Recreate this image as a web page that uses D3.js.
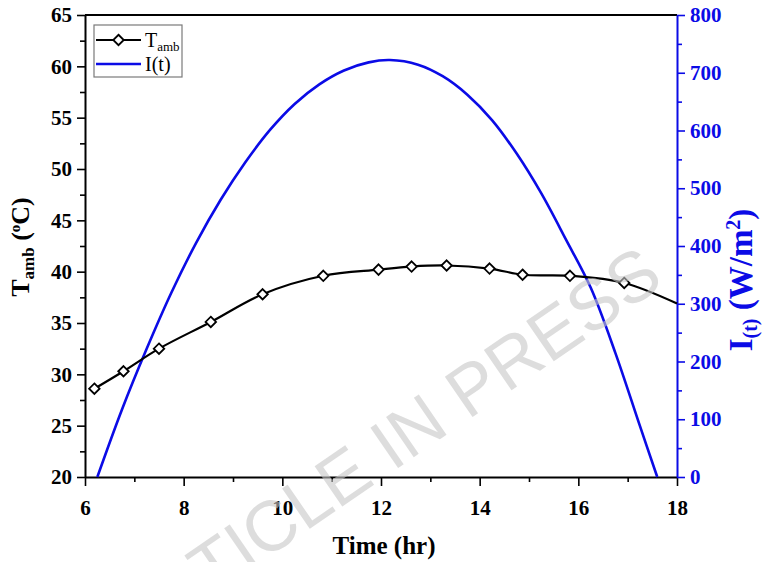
<!DOCTYPE html>
<html>
<head>
<meta charset="utf-8">
<script src="https://cdn.jsdelivr.net/npm/d3@7"></script>
<style>
  html, body { margin: 0; padding: 0; background: #fff; }
  svg { display: block; }
</style>
</head>
<body>
<svg id="chart" width="764" height="562"></svg>
<script>
// Hourly ambient temperature (°C)
const tampTimes = [6.19, 6.78, 7.50, 8.55, 9.60, 10.83, 11.95, 12.62, 13.33, 14.20, 14.87, 15.83, 16.93, 18.0];
const tampValues = [28.6, 30.3, 32.5, 35.1, 37.8, 39.6, 40.2, 40.5, 40.6, 40.3, 39.7, 39.6, 38.9, 36.9];
// the last entry closes the curve at the end of the day and carries no marker
const tampMarked = [true, true, true, true, true, true, true, true, true, true, true, true, true, false];

// Solar irradiance I(t) (W/m²)
const irrTimes = [6.25, 6.75, 7.25, 7.75, 8.25, 8.75, 9.25, 9.75, 10.25, 10.75, 11.25, 11.75, 12.18,
                  12.75, 13.25, 13.75, 14.25, 14.75, 15.25, 15.75, 16.25, 16.75, 17.25, 17.60];
const irrValues = [0, 117, 222, 319, 405, 480, 545, 601, 646, 680, 704, 718, 722,
                   714, 694, 662, 618, 560, 491, 411, 328, 215, 88, 0];

// Axis ticks
const xMajor = [6, 8, 10, 12, 14, 16, 18];
const xMinor = [7, 9, 11, 13, 15, 17];
const yLeftMajor = [20, 25, 30, 35, 40, 45, 50, 55, 60, 65];
const yLeftMinor = [22.5, 27.5, 32.5, 37.5, 42.5, 47.5, 52.5, 57.5, 62.5];
const yRightMajor = [0, 100, 200, 300, 400, 500, 600, 700, 800];
const yRightMinor = [50, 150, 250, 350, 450, 550, 650, 750];

const BLUE = "#0b0be6";
const SERIF = "'Liberation Serif', 'Times New Roman', serif";

const svg = d3.select("#chart");
const margin = { top: 15, right: 87, bottom: 85, left: 85 };
const W = 764, H = 562;
const x0 = margin.left, x1 = W - margin.right, y0 = H - margin.bottom, y1 = margin.top;

const x = d3.scaleLinear().domain([6, 18]).range([x0, x1]);
const yL = d3.scaleLinear().domain([20, 65]).range([y0, y1]);
const yR = d3.scaleLinear().domain([0, 800]).range([y0, y1]);

// Frame top edge
svg.append("line").attr("x1", x0).attr("x2", x1).attr("y1", y1).attr("y2", y1)
  .attr("stroke", "#000").attr("stroke-width", 2);

function styleAxis(g, color, size) {
  g.attr("font-family", SERIF).attr("font-weight", "bold").attr("font-size", size);
  g.select(".domain").attr("stroke", color).attr("stroke-width", 2);
  g.selectAll(".tick line").attr("stroke", color).attr("stroke-width", 1.6);
  g.selectAll(".tick text").attr("fill", color)
    .attr("font-family", SERIF).attr("font-weight", "bold");
}

// Bottom axis
const gxMinor = svg.append("g").attr("transform", `translate(0,${y0})`)
  .call(d3.axisBottom(x).tickValues(xMinor).tickSize(5).tickFormat(""));
styleAxis(gxMinor, "#000", 21);
gxMinor.select(".domain").remove();
const gx = svg.append("g").attr("transform", `translate(0,${y0})`)
  .call(d3.axisBottom(x).tickValues(xMajor).tickSize(9).tickPadding(14).tickSizeOuter(0).tickFormat(d3.format("d")));
styleAxis(gx, "#000", 21);

// Left axis
const glMinor = svg.append("g").attr("transform", `translate(${x0},0)`)
  .call(d3.axisLeft(yL).tickValues(yLeftMinor).tickSize(5).tickFormat(""));
styleAxis(glMinor, "#000", 21);
glMinor.select(".domain").remove();
const gl = svg.append("g").attr("transform", `translate(${x0},0)`)
  .call(d3.axisLeft(yL).tickValues(yLeftMajor).tickSize(8).tickPadding(5).tickSizeOuter(0).tickFormat(d3.format("d")));
styleAxis(gl, "#000", 21);

// Right axis
const grMinor = svg.append("g").attr("transform", `translate(${x1},0)`)
  .call(d3.axisRight(yR).tickValues(yRightMinor).tickSize(5).tickFormat(""));
styleAxis(grMinor, BLUE, 21);
grMinor.select(".domain").remove();
const gr = svg.append("g").attr("transform", `translate(${x1},0)`)
  .call(d3.axisRight(yR).tickValues(yRightMajor).tickSize(8).tickPadding(5).tickSizeOuter(0).tickFormat(d3.format("d")));
styleAxis(gr, BLUE, 21);

// Irradiance curve
const irrData = irrTimes.map((t, i) => ({ t, v: irrValues[i] }));
svg.append("path").datum(irrData)
  .attr("fill", "none").attr("stroke", BLUE).attr("stroke-width", 2.6)
  .attr("d", d3.line().x(d => x(d.t)).y(d => yR(d.v)).curve(d3.curveCatmullRom.alpha(0.5)));

// Ambient temperature curve with markers
const tData = tampTimes.map((t, i) => ({ t, v: tampValues[i], m: tampMarked[i] }));
svg.append("path").datum(tData)
  .attr("fill", "none").attr("stroke", "#000").attr("stroke-width", 2.2)
  .attr("d", d3.line().x(d => x(d.t)).y(d => yL(d.v)).curve(d3.curveCatmullRom.alpha(0.5)));

const diamond = d3.symbol().type(d3.symbolDiamond2).size(70);
svg.append("g").selectAll("path").data(tData.filter(d => d.m)).join("path")
  .attr("transform", d => `translate(${x(d.t)},${yL(d.v)})`)
  .attr("d", diamond)
  .attr("fill", "#fff").attr("stroke", "#000").attr("stroke-width", 1.8);

// Axis titles
svg.append("text").attr("x", 384).attr("y", 554)
  .attr("text-anchor", "middle").attr("font-family", SERIF).attr("font-weight", "bold")
  .attr("font-size", 25).text("Time (hr)");

const yLt = svg.append("text").attr("transform", `translate(29,247) rotate(-90)`)
  .attr("text-anchor", "middle").attr("font-family", SERIF).attr("font-weight", "bold").attr("font-size", 26);
yLt.append("tspan").text("T");
yLt.append("tspan").attr("font-size", 17).attr("dy", 5).text("amb");
yLt.append("tspan").attr("dy", -5).text(" (");
yLt.append("tspan").attr("font-size", 15).attr("dy", -9).text("o");
yLt.append("tspan").attr("dy", 9).text("C)");

const yRt = svg.append("text").attr("transform", `translate(752,280) rotate(-90)`)
  .attr("text-anchor", "middle").attr("font-family", SERIF).attr("font-weight", "bold")
  .attr("font-size", 33).attr("fill", BLUE);
yRt.append("tspan").text("I");
yRt.append("tspan").attr("font-size", 20).attr("dy", 5).text("(t)");
yRt.append("tspan").attr("dy", -5).text(" (W/m");
yRt.append("tspan").attr("font-size", 20).attr("dy", -12).text("2");
yRt.append("tspan").attr("dy", 12).text(")");

// Legend
const lg = svg.append("g");
lg.append("rect").attr("x", 94).attr("y", 25).attr("width", 88).attr("height", 52)
  .attr("fill", "#fff").attr("stroke", "#7a7a7a").attr("stroke-width", 1.2);
lg.append("line").attr("x1", 96).attr("x2", 141).attr("y1", 40).attr("y2", 40)
  .attr("stroke", "#000").attr("stroke-width", 2.2);
lg.append("path").attr("transform", "translate(118.5,40)").attr("d", diamond)
  .attr("fill", "#fff").attr("stroke", "#000").attr("stroke-width", 1.8);
const lt1 = lg.append("text").attr("x", 145).attr("y", 47)
  .attr("font-family", SERIF).attr("font-size", 20);
lt1.append("tspan").text("T");
lt1.append("tspan").attr("font-size", 13).attr("dy", 4).text("amb");
lg.append("line").attr("x1", 96).attr("x2", 141).attr("y1", 64).attr("y2", 64)
  .attr("stroke", BLUE).attr("stroke-width", 2.4);
lg.append("text").attr("x", 145).attr("y", 71)
  .attr("font-family", SERIF).attr("font-size", 20).text("I(t)");

// Status stamp across the plot
svg.append("text")
  .attr("transform", "translate(666,284) rotate(-34.5)")
  .attr("text-anchor", "end")
  .attr("font-family", "'Liberation Sans', Arial, sans-serif")
  .attr("font-size", 71)
  .attr("fill", "rgb(198,198,198)").attr("fill-opacity", 0.6)
  .text("ARTICLE IN PRESS");
</script>
</body>
</html>
